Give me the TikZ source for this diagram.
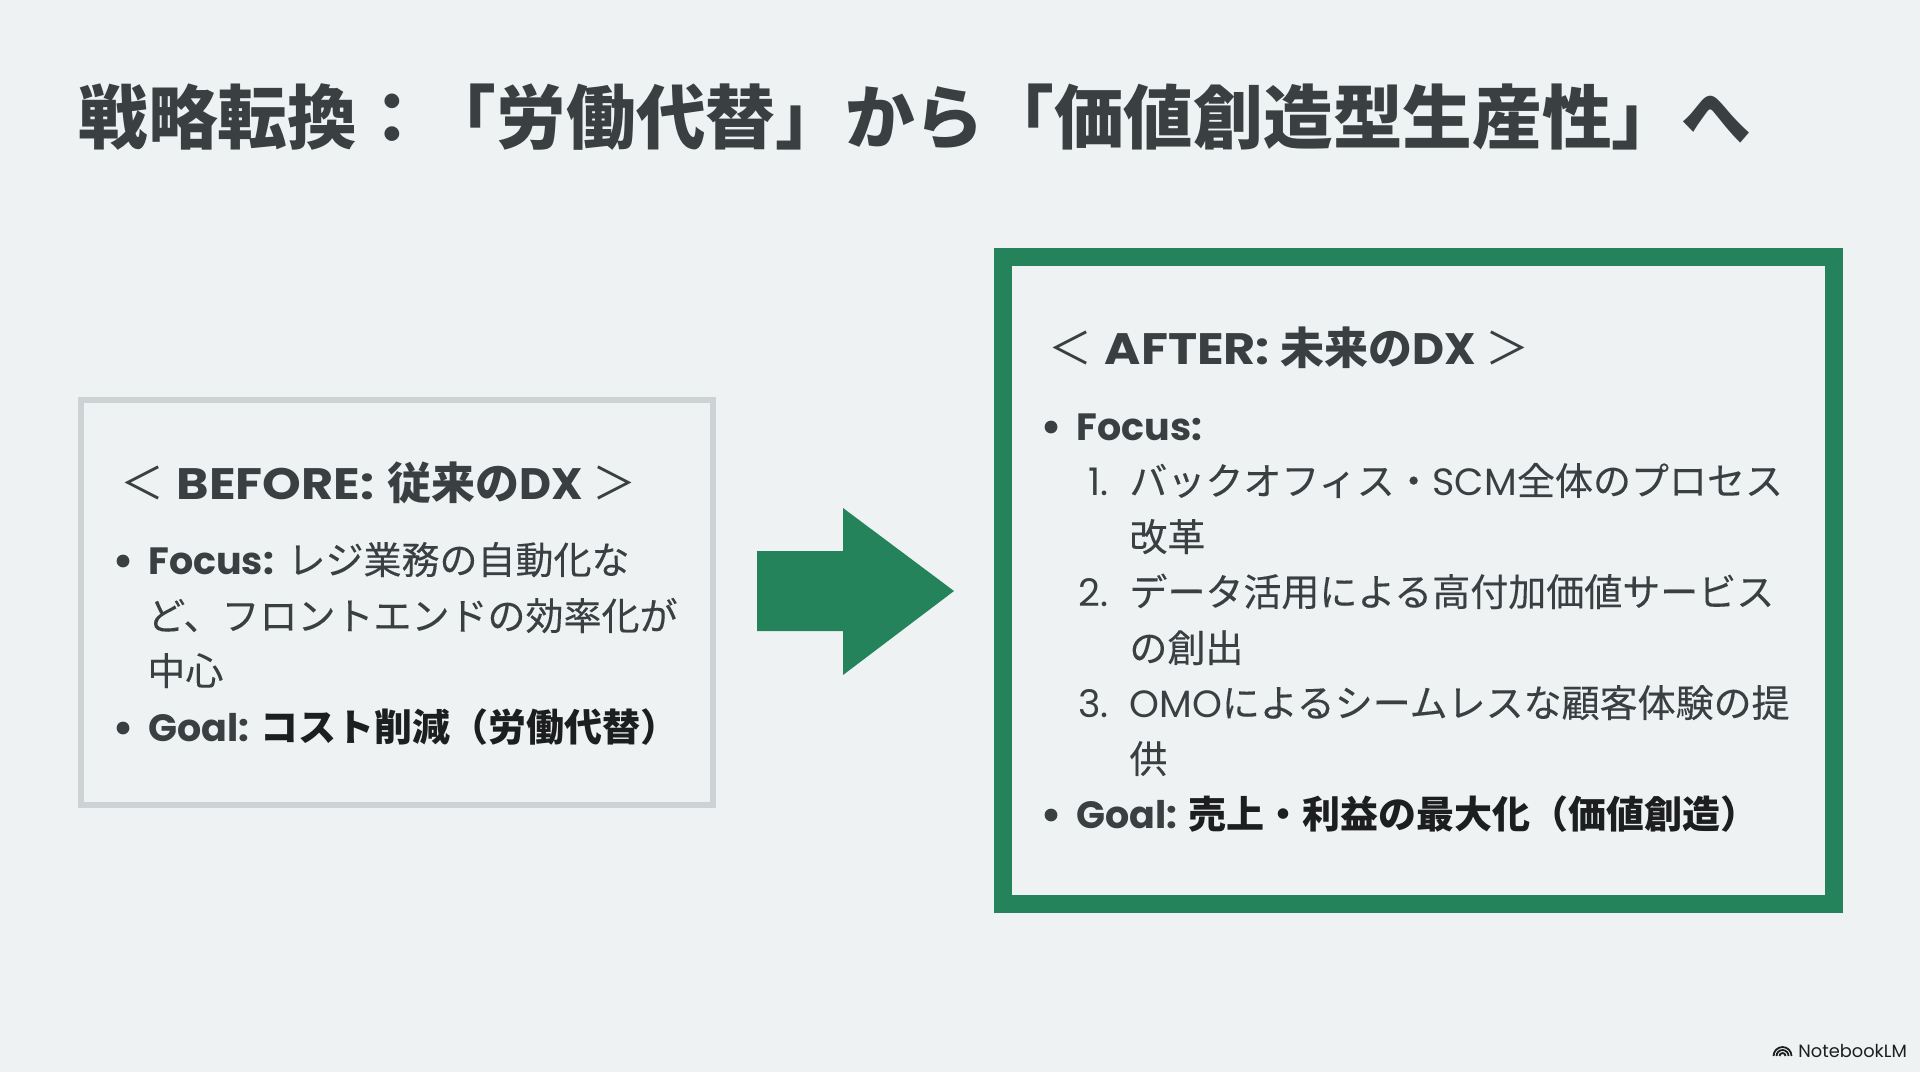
\documentclass[tikz,border=0pt]{standalone}
\usepackage{fontspec}
\setmainfont{Poppins}
\newfontfamily\cjk[UprightFeatures={FakeBold=0.2}]{Noto Sans CJK JP}
\newfontfamily\headcjk{Noto Sans CJK JP}
\newfontfamily\headlatin[FakeStretch=1.12]{Poppins}
\usetikzlibrary{positioning}
\definecolor{pagebg}{RGB}{238,242,243}
\definecolor{inkgray}{RGB}{58,63,65}
\definecolor{inkdark}{RGB}{28,30,31}
\definecolor{boxgray}{RGB}{205,211,213}
\definecolor{dxgreen}{RGB}{36,131,90}
\newcommand{\chevl}{{\mdseries\headcjk ＜}\hspace{0.28em}}
\newcommand{\chevr}{\hspace{0.21em}{\mdseries\headcjk ＞}}
\tikzset{
  txt/.style={anchor=base west, inner sep=0pt, text=inkgray, font=\fontsize{19}{21}\selectfont},
  heading/.style={txt, font=\fontsize{22}{24}\selectfont\bfseries\headlatin},
  numlabel/.style={txt, anchor=base east},
  pagetitle/.style={txt, font=\fontsize{34.85}{38}\selectfont\bfseries\headcjk},
  logotext/.style={txt, text=inkdark, font=\fontsize{8.9}{10}\selectfont}
}
\begin{document}
\begin{tikzpicture}[x=0.5pt, y=-0.5pt]
  \fill[pagebg] (0,0) rectangle (1920,1072);
  \useasboundingbox (0,0) rectangle (1920,1072);

  \node[pagetitle] (title) at (78,143) {戦略転換：「労働代替」から「価値創造型生産性」へ};

  \draw[boxgray, line width=3pt] (81,400) rectangle (713,805);
  \draw[dxgreen, line width=9.2pt] (1003,257) rectangle (1834,904);
  \fill[dxgreen] (757,551) -- (843,551) -- (843,508) -- (954,591) -- (843,675) -- (843,631) -- (757,631) -- cycle;

  \node[heading] (beforehead) at (120,499) {\chevl BEFORE:\hspace{1.5pt} {\headcjk 従来の}{\rmfamily DX}\chevr};
  \node[txt] (beforefocus) at (148,574) {\textbf{Focus:} {\cjk レジ業務の自動化な}};
  \node[txt] (beforefocusb) at (147,630) {\cjk ど、フロントエンドの効率化が};
  \node[txt] (beforefocusc) at (147,685) {\cjk 中心};
  \node[txt] (beforegoal) at (148,741) {\textbf{Goal:}\hspace{0.3em}{\bfseries\headcjk\color{inkdark}コスト削減（労働代替）}};

  \node[heading] (afterhead) at (1048,364) {\chevl AFTER: {\headcjk 未来の}{\rmfamily DX}\chevr};
  \node[txt] (afterfocus) at (1076,440) {\textbf{Focus:}};
  \node[txt] (itemone) at (1129,495) {{\cjk バックオフィス・}SCM{\cjk 全体のプロセス}};
  \node[txt] (itemoneb) at (1129,551) {\cjk 改革};
  \node[txt] (itemtwo) at (1129,606) {\cjk データ活用による高付加価値サービス};
  \node[txt] (itemtwob) at (1129,662) {\cjk の創出};
  \node[txt] (itemthree) at (1129,717) {OMO{\cjk によるシームレスな顧客体験の提}};
  \node[txt] (itemthreeb) at (1129,773) {\cjk 供};
  \node[txt] (aftergoal) at (1076,828) {\textbf{Goal:}\hspace{0.3em}{\bfseries\headcjk\color{inkdark}売上・利益の最大化（価値創造）}};

  \foreach \name/\y/\lab in {numone/495/1., numtwo/606/2., numthree/717/3.} {
    \node[numlabel] (\name) at (1109,\y) {\lab};
  }
  \foreach \x/\y in {123/561, 123/728, 1051/427, 1051/815} {
    \fill[inkgray] (\x,\y) circle (3.2pt);
  }

  \foreach \r in {3,6,9} {
    \draw[inkdark, line width=0.9pt] (1782.5-\r,1056) arc (180:360:\r);
  }
  \node[logotext] (logo) at (1798,1057) {NotebookLM};
\end{tikzpicture}
\end{document}
